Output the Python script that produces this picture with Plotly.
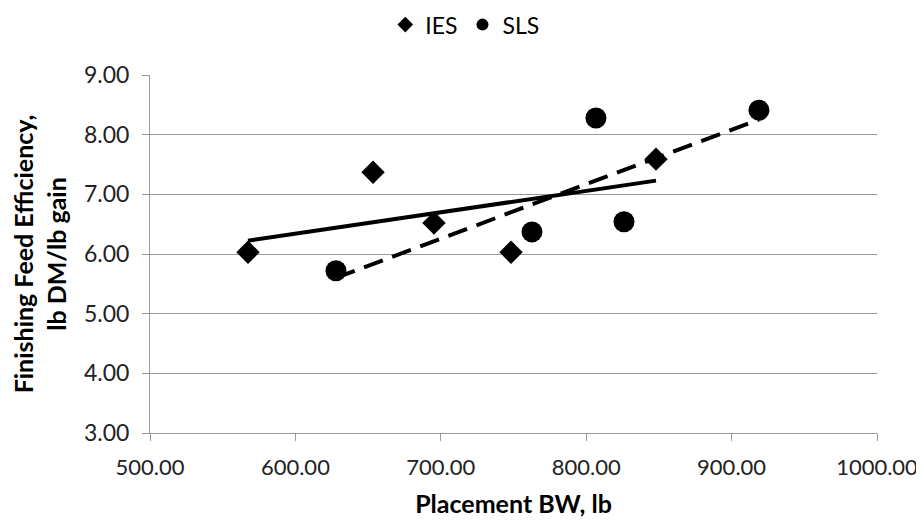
import numpy as np
import plotly.graph_objects as go

ies_x = [567.4, 653.4, 695.3, 748.3, 848.0]
ies_y = [6.03, 7.37, 6.52, 6.03, 7.59]
sls_x = [627.9, 762.7, 806.7, 826.0, 918.8]
sls_y = [5.72, 6.37, 8.28, 6.54, 8.41]

x_ticks = [500, 600, 700, 800, 900, 1000]
y_ticks = [3, 4, 5, 6, 7, 8, 9]

def trend(xs, ys):
    m, b = np.polyfit(xs, ys, 1)
    xe = [min(xs), max(xs)]
    return xe, [m * v + b for v in xe]

fig = go.Figure()
fig.add_trace(go.Scatter(x=ies_x, y=ies_y, mode="markers", name="IES",
                         marker=dict(symbol="diamond", size=18, color="black")))
fig.add_trace(go.Scatter(x=sls_x, y=sls_y, mode="markers", name="SLS",
                         marker=dict(symbol="circle", size=21, color="black")))
tx, ty = trend(ies_x, ies_y)
fig.add_trace(go.Scatter(x=tx, y=ty, mode="lines", showlegend=False,
                         line=dict(color="black", width=4)))
tx, ty = trend(sls_x, sls_y)
fig.add_trace(go.Scatter(x=tx, y=ty, mode="lines", showlegend=False,
                         line=dict(color="black", width=4, dash="20px,10px")))

font = "Lato, Open Sans, sans-serif"
fig.update_layout(
    width=924, height=521,
    margin=dict(l=142, r=55, t=67, b=96, autoexpand=False),
    paper_bgcolor="white", plot_bgcolor="white",
    font=dict(family=font, size=23, color="#222"),
    showlegend=True,
    legend=dict(orientation="h", x=0.433, xanchor="center",
                yref="container", y=0.968, yanchor="middle",
                font=dict(size=23, color="black"), itemsizing="constant",
                itemwidth=30, tracegroupgap=0, bgcolor="rgba(0,0,0,0)"),
    xaxis=dict(range=[500, 1000], tickvals=x_ticks,
               ticktext=[f"{v:.2f}" for v in x_ticks],
               showgrid=False, zeroline=False, showline=True, linecolor="#999",
               ticks="outside", ticklen=7, tickcolor="#999", ticklabelstandoff=8,
               title=dict(text="<b>Placement BW, lb</b>", font=dict(size=25, color="black"), standoff=16),
               tickfont=dict(size=22, color="#222")),
    yaxis=dict(range=[3, 9], tickvals=y_ticks,
               ticktext=[f"{v:.2f}" for v in y_ticks],
               showgrid=True, gridcolor="#999", gridwidth=1, zeroline=False,
               showline=True, linecolor="#999",
               ticks="outside", ticklen=7, tickcolor="#999", ticklabelstandoff=8,
               title=dict(text="<b>Finishing Feed Efficiency,<br>lb DM/lb gain</b>",
                          font=dict(size=25, color="black"), standoff=14),
               tickfont=dict(size=23, color="#222")),
)
fig.write_html("out.html")
